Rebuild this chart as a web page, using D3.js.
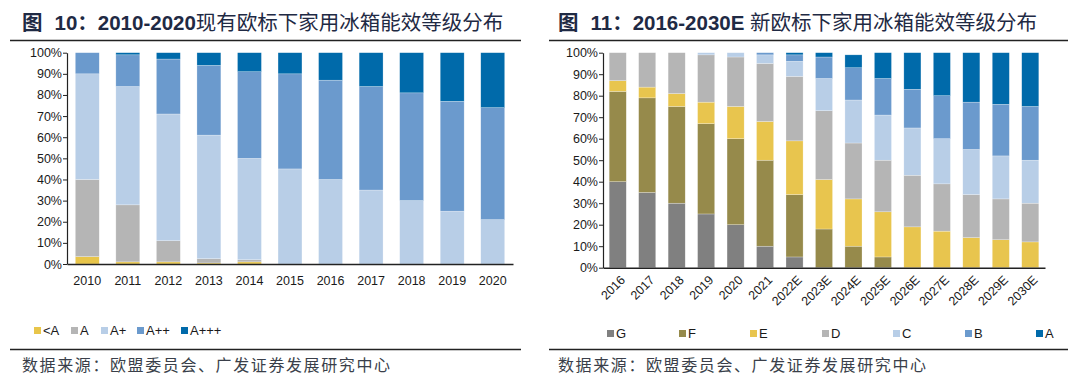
<!DOCTYPE html>
<html>
<head>
<meta charset="utf-8">
<script src="https://cdn.jsdelivr.net/npm/d3@7"></script>
<style>
  body { margin: 0; background: #fff; }
  svg { display: block; }
  text { font-family: "Liberation Sans", Arial, sans-serif; fill: #1a1a1a; }
  .cn { font-family: "Liberation Sans", "Noto Sans CJK SC", sans-serif; }
</style>
</head>
<body>
<div id="chart"></div>
<script>
// ---- data (percent) ----
var leftYears = ["2010","2011","2012","2013","2014","2015","2016","2017","2018","2019","2020"];
var leftKeys = ["<A","A","A+","A++","A+++"];
var leftLtA   = [3.5, 1, 1, 0.5, 1, 0, 0, 0, 0, 0, 0];
var leftA     = [36.5, 27, 10, 2, 1, 0, 0, 0, 0, 0, 0];
var leftAp    = [50, 56, 60, 58.5, 48, 45, 40, 35, 30, 25, 21];
var leftApp   = [10, 15, 26, 33, 41, 45, 47, 49, 51, 52, 53];
var leftAppp  = [0, 1, 3, 6, 9, 10, 13, 16, 19, 23, 26];
var leftColors = ["#e8c54a", "#b5b5b5", "#b8cee7", "#6b9acd", "#006aaa"];

var rightYears = ["2016","2017","2018","2019","2020","2021","2022E","2023E","2024E","2025E","2026E","2027E","2028E","2029E","2030E"];
var rightKeys = ["G","F","E","D","C","B","A"];
var rightG = [40, 35, 30, 25, 20, 10, 5, 0, 0, 0, 0, 0, 0, 0, 0];
var rightF = [42, 44, 45, 42, 40, 40, 29, 18, 10, 5, 0, 0, 0, 0, 0];
var rightE = [5, 5, 6, 10, 15, 18, 25, 23, 22, 21, 19, 17, 14, 13, 12];
var rightD = [13, 16, 19, 22, 23, 27, 30, 32, 26, 24, 24, 22, 20, 19, 18];
var rightC = [0, 0, 0, 1, 2, 4, 7, 15, 20, 21, 22, 21, 21, 20, 20];
var rightB = [0, 0, 0, 0, 0, 1, 3, 10, 15, 17, 18, 20, 22, 24, 25];
var rightA = [0, 0, 0, 0, 0, 0, 1, 2, 6, 12, 17, 20, 23, 24, 25];
var rightColors = ["#808080", "#968a4b", "#e8c54e", "#b5b5b5", "#b8cee7", "#6b9acd", "#006aaa"];

var yTicks = [0, 10, 20, 30, 40, 50, 60, 70, 80, 90, 100];

var width = 1080, height = 392;
var svg = d3.select("#chart").append("svg")
    .attr("width", width)
    .attr("height", height);

function buildRows(cats, keys, series) {
    return cats.map(function(c, i) {
        var row = { cat: c };
        keys.forEach(function(k, j) { row[k] = series[j][i]; });
        return row;
    });
}

function panel(opt) {
    var g = svg.append("g");

    // title + rules
    var t = g.append("text")
        .attr("x", opt.titleX).attr("y", 30)
        .attr("class", "cn")
        .style("font-size", "20.5px")
        .style("fill", "#1f2a44");
    t.append("tspan").style("font-weight", "bold").text("图");
    t.append("tspan").attr("dx", 12).style("font-weight", "bold").text(opt.titleA);
    t.append("tspan").text(opt.titleB);

    g.append("line")
        .attr("x1", opt.ruleX0).attr("x2", opt.ruleX1)
        .attr("y1", 40.5).attr("y2", 40.5)
        .attr("stroke", "#222").attr("stroke-width", 1.3);
    g.append("line")
        .attr("x1", opt.ruleX0).attr("x2", opt.ruleX1)
        .attr("y1", 349.5).attr("y2", 349.5)
        .attr("stroke", "#222").attr("stroke-width", 1.3);

    g.append("text")
        .attr("x", opt.titleX).attr("y", 371)
        .style("font-family", "'Noto Sans CJK SC', sans-serif")
        .style("font-size", "16px")
        .style("letter-spacing", "1.6px")
        .style("fill", "#3a3f4a")
        .text("数据来源：欧盟委员会、广发证券发展研究中心");

    // scales
    var x = d3.scaleBand()
        .domain(opt.cats)
        .range([opt.x0, opt.x1])
        .paddingInner(opt.pad)
        .paddingOuter(opt.pad / 2);
    var y = d3.scaleLinear().domain([0, 100]).range([opt.y0, opt.y1]);

    var rows = buildRows(opt.cats, opt.keys, opt.series);
    var stack = d3.stack().keys(opt.keys)(rows);
    var color = d3.scaleOrdinal().domain(opt.keys).range(opt.colors);

    g.selectAll("g.layer")
        .data(stack)
        .enter().append("g")
        .attr("class", "layer")
        .attr("fill", function(d) { return color(d.key); })
        .selectAll("rect")
        .data(function(d) { return d; })
        .enter().append("rect")
        .attr("x", function(d) { return x(d.data.cat); })
        .attr("width", x.bandwidth())
        .attr("y", function(d) { return y(d[1]); })
        .attr("height", function(d) { return Math.max(0, y(d[0]) - y(d[1])); })
        .attr("stroke", "rgba(255,255,255,0.5)")
        .attr("stroke-width", 0.5);

    // y axis
    var ya = g.append("g")
        .attr("transform", "translate(" + opt.x0 + ",0)")
        .call(d3.axisLeft(y).tickValues(yTicks).tickSize(4).tickSizeOuter(0)
            .tickFormat(function(d) { return d + "%"; }));
    ya.select(".domain").attr("stroke", "#222").attr("stroke-width", 1.2);
    ya.selectAll(".tick line").attr("stroke", "#222");
    ya.selectAll(".tick text")
        .attr("x", -5)
        .style("font-size", "12.5px")
        .style("font-family", "'Liberation Sans', Arial, sans-serif")
        .style("fill", "#1a1a1a");

    // x axis
    var xa = g.append("g")
        .attr("transform", "translate(0," + opt.y0 + ")")
        .call(d3.axisBottom(x).tickSize(0).tickSizeOuter(0));
    xa.select(".domain").attr("stroke", "#222").attr("stroke-width", 1.5);
    var xt = xa.selectAll(".tick text")
        .style("font-size", "12.5px")
        .style("font-family", "'Liberation Sans', Arial, sans-serif")
        .style("fill", "#1a1a1a");
    if (opt.rotate) {
        xt.attr("text-anchor", "end")
            .attr("dy", "0.35em")
            .attr("y", 0)
            .attr("transform", "translate(5,10) rotate(-45)");
    } else {
        xt.attr("y", 12);
    }

    // legend
    var lg = g.append("g").selectAll("g")
        .data(opt.keys)
        .enter().append("g")
        .attr("transform", function(d, i) {
            return "translate(" + opt.legendX[i] + "," + opt.legendY + ")";
        });
    lg.append("rect")
        .attr("x", 0).attr("y", -8)
        .attr("width", 7).attr("height", 7)
        .attr("fill", function(d) { return color(d); });
    lg.append("text")
        .attr("x", 9).attr("y", 0)
        .style("font-size", "13px")
        .text(function(d) { return d; });
}

panel({
    titleX: 22, titleA: "10：2010-2020", titleB: "现有欧标下家用冰箱能效等级分布",
    ruleX0: 10, ruleX1: 521,
    cats: leftYears, keys: leftKeys,
    series: [leftLtA, leftA, leftAp, leftApp, leftAppp],
    colors: leftColors,
    x0: 67, x1: 513, y0: 264, y1: 52.7, pad: 0.41,
    rotate: false,
    legendX: [34, 71, 101, 137, 181], legendY: 335
});

panel({
    titleX: 558, titleA: "11：2016-2030E ", titleB: "新欧标下家用冰箱能效等级分布",
    ruleX0: 549, ruleX1: 1068,
    cats: rightYears, keys: rightKeys,
    series: [rightG, rightF, rightE, rightD, rightC, rightB, rightA],
    colors: rightColors,
    x0: 603, x1: 1045, y0: 267.7, y1: 52.7, pad: 0.42,
    rotate: true,
    legendX: [607, 679, 750, 822, 893, 965, 1036], legendY: 338
});
</script>
</body>
</html>
